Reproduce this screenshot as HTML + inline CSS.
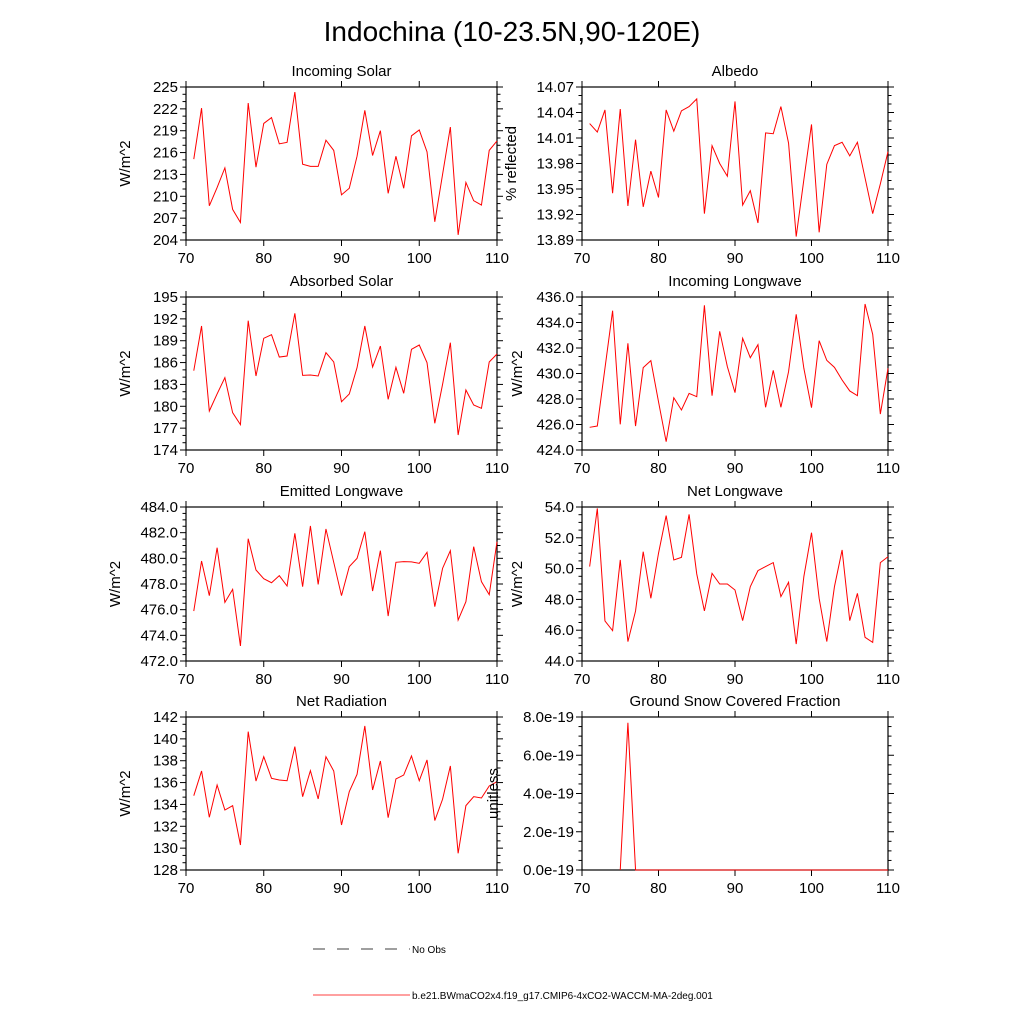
<!DOCTYPE html>
<html><head><meta charset="utf-8"><style>
html,body{margin:0;padding:0;background:#fff;}
svg{display:block;font-family:"Liberation Sans",Arial,sans-serif;}
</style></head><body>
<svg id="chart" width="1024" height="1024" viewBox="0 0 1024 1024">
<text x="512" y="41" font-size="28" text-anchor="middle">Indochina (10-23.5N,90-120E)</text>
<g>
<line x1="313" y1="949" x2="410" y2="949" stroke="#000" stroke-width="0.8" stroke-dasharray="12,12"/>
<text x="412" y="953" font-size="10">No Obs</text>
<line x1="313" y1="995" x2="410" y2="995" stroke="red" stroke-width="0.8"/>
<text x="412" y="999" font-size="10">b.e21.BWmaCO2x4.f19_g17.CMIP6-4xCO2-WACCM-MA-2deg.001</text>
</g>
</svg>
<script>
const years = [71,72,73,74,75,76,77,78,79,80,81,82,83,84,85,86,87,88,89,90,91,92,93,94,95,96,97,98,99,100,101,102,103,104,105,106,107,108,109,110];
const xTicks = [70,80,90,100,110];
const incomingSolar = [215.1,222.1,208.7,211.2,213.9,208.2,206.4,222.8,214.0,220.0,220.8,217.2,217.4,224.3,214.4,214.1,214.1,217.7,216.3,210.2,211.1,215.5,221.8,215.6,219.0,210.4,215.5,211.1,218.3,219.1,216.1,206.5,213.0,219.5,204.7,211.9,209.4,208.8,216.3,217.6];
const albedo = [14.027,14.017,14.043,13.945,14.044,13.930,14.008,13.929,13.971,13.940,14.043,14.018,14.042,14.047,14.056,13.921,14.001,13.980,13.965,14.053,13.931,13.948,13.910,14.016,14.015,14.047,14.004,13.894,13.961,14.026,13.899,13.979,14.001,14.005,13.989,14.005,13.963,13.921,13.956,13.994];
const absorbedSolar = [184.89,191.02,179.35,181.69,183.93,179.12,177.48,191.75,184.16,189.33,189.83,186.76,186.90,192.76,184.25,184.29,184.16,187.36,186.08,180.63,181.69,185.30,191.02,185.39,188.27,180.95,185.35,181.78,187.82,188.41,185.99,177.66,183.01,188.73,176.06,182.24,180.18,179.72,186.08,187.18];
const incomingLW = [425.78,425.88,430.41,434.93,426.01,432.37,425.88,430.46,431.01,427.79,424.65,428.10,427.14,428.44,428.18,435.35,428.26,433.31,430.54,428.50,432.76,431.24,432.26,427.35,430.25,427.35,430.14,434.64,430.41,427.32,432.57,431.03,430.48,429.49,428.63,428.26,435.45,433.07,426.82,430.41];
const emittedLW = [475.89,479.79,477.09,480.83,476.57,477.58,473.17,481.53,479.09,478.41,478.10,478.65,477.84,481.95,477.79,482.52,477.97,482.29,479.69,477.09,479.35,480.00,482.08,477.45,480.60,475.50,479.69,479.74,479.72,479.61,480.47,476.23,479.22,480.60,475.19,476.62,480.91,478.18,477.17,481.30];
const netLW = [50.13,53.91,46.60,45.97,50.56,45.26,47.25,51.10,48.07,50.99,53.44,50.56,50.73,53.52,49.65,47.25,49.69,49.00,49.00,48.61,46.62,48.83,49.87,50.13,50.39,48.18,49.11,45.10,49.48,52.33,48.07,45.26,48.83,51.21,46.62,48.39,45.54,45.21,50.39,50.77];
const netRad = [134.80,137.06,132.82,135.78,133.49,133.89,130.29,140.66,136.14,138.37,136.39,136.24,136.17,139.29,134.71,137.09,134.50,138.37,137.06,132.12,135.17,136.75,141.18,135.32,137.97,132.79,136.33,136.69,138.43,136.17,138.07,132.52,134.47,137.52,129.53,133.89,134.71,134.59,135.69,136.08];
const snowFrac = [null,null,null,null,0,7.7e-19,0,0,0,0,0,0,0,0,0,0,0,0,0,0,0,0,0,0,0,0,0,0,0,0,0,0,0,0,0,0,0,0,0,0];
const ticksSolar = [204,207,210,213,216,219,222,225];
const ticksAlbedo = [13.89,13.92,13.95,13.98,14.01,14.04,14.07];
const ticksAbs = [174,177,180,183,186,189,192,195];
const ticksInLW = [424,426,428,430,432,434,436];
const ticksEmLW = [472,474,476,478,480,482,484];
const ticksNetLW = [44,46,48,50,52,54];
const ticksNetRad = [128,130,132,134,136,138,140,142];
const ticksSnow = [0,2e-19,4e-19,6e-19,8e-19];

const svg = document.getElementById('chart');
const NS = 'http://www.w3.org/2000/svg';
function mk(tag, attrs, parent){const e=document.createElementNS(NS,tag);for(const k in attrs)e.setAttribute(k,attrs[k]);(parent||svg).appendChild(e);return e;}

const cols = [[186,497],[582,888]];
const rows = [[87,240],[297,450],[507,661],[717,870]];
const panels = [
 {name:'incoming-solar',title:'Incoming Solar',ytitle:'W/m^2',data:incomingSolar,ticks:ticksSolar,sub:3,fmt:v=>v.toFixed(0),c:0,r:0,ytx:130},
 {name:'albedo',title:'Albedo',ytitle:'% reflected',data:albedo,ticks:ticksAlbedo,sub:3,fmt:v=>v.toFixed(2),c:1,r:0,ytx:516},
 {name:'absorbed-solar',title:'Absorbed Solar',ytitle:'W/m^2',data:absorbedSolar,ticks:ticksAbs,sub:3,fmt:v=>v.toFixed(0),c:0,r:1,ytx:130},
 {name:'incoming-longwave',title:'Incoming Longwave',ytitle:'W/m^2',data:incomingLW,ticks:ticksInLW,sub:3,fmt:v=>v.toFixed(1),c:1,r:1,ytx:522},
 {name:'emitted-longwave',title:'Emitted Longwave',ytitle:'W/m^2',data:emittedLW,ticks:ticksEmLW,sub:4,fmt:v=>v.toFixed(1),c:0,r:2,ytx:120},
 {name:'net-longwave',title:'Net Longwave',ytitle:'W/m^2',data:netLW,ticks:ticksNetLW,sub:4,fmt:v=>v.toFixed(1),c:1,r:2,ytx:522},
 {name:'net-radiation',title:'Net Radiation',ytitle:'W/m^2',data:netRad,ticks:ticksNetRad,sub:3,fmt:v=>v.toFixed(0),c:0,r:3,ytx:130},
 {name:'ground-snow',title:'Ground Snow Covered Fraction',ytitle:'unitless',data:snowFrac,ticks:ticksSnow,sub:4,fmt:v=>(v/1e-19).toFixed(1)+'e-19',c:1,r:3,ytx:498}
];

panels.forEach(p=>{
 const [x0,x1]=cols[p.c],[y0,y1]=rows[p.r];
 const lo=p.ticks[0],hi=p.ticks[p.ticks.length-1];
 const xs=v=>x0+(v-70)/40*(x1-x0);
 const ys=v=>y1-(v-lo)/(hi-lo)*(y1-y0);
 const g=mk('g',{});
 
 
 const t=mk('text',{x:(x0+x1)/2,y:y0-11,'font-size':15,'text-anchor':'middle'},g);
 t.textContent=p.title;
 
 
 const yt=mk('text',{x:p.ytx,y:(y0+y1)/2,'font-size':15,'text-anchor':'middle',transform:`rotate(-90 ${p.ytx} ${(y0+y1)/2})`},g);
 yt.textContent=p.ytitle;
 
 
 const tk=mk('g',{stroke:'#000','stroke-width':1},g);
 
 
 for(let i=0;i<p.ticks.length;i++){
  const y=ys(p.ticks[i]);
  mk('line',{x1:x0-6,y1:y,x2:x0,y2:y},tk);
  mk('line',{x1:x1,y1:y,x2:x1+6,y2:y},tk);
  if(i<p.ticks.length-1){
   for(let s=1;s<p.sub;s++){
    const ym=ys(p.ticks[i]+(p.ticks[i+1]-p.ticks[i])*s/p.sub);
    mk('line',{x1:x0-3.5,y1:ym,x2:x0,y2:ym},tk);
    mk('line',{x1:x1,y1:ym,x2:x1+3.5,y2:ym},tk);
   }
  }
  const lb=mk('text',{x:x0-8,y:y+5,'font-size':15,'text-anchor':'end',stroke:'none'},g);
  lb.textContent=p.fmt(p.ticks[i]);
  
  
 }
 xTicks.forEach(v=>{
  const x=xs(v);
  mk('line',{x1:x,y1:y1,x2:x,y2:y1+6},tk);
  mk('line',{x1:x,y1:y0-6,x2:x,y2:y0},tk);
  const lb=mk('text',{x:x,y:y1+23,'font-size':15,'text-anchor':'middle'},g);
  lb.textContent=String(v);
  
  
 });
 const frame=mk('rect',{x:x0,y:y0,width:x1-x0,height:y1-y0,fill:'none',stroke:'#000','stroke-width':1.2},g);
 
 
 let d='',pen=false;
 p.data.forEach((v,i)=>{
  if(v===null){pen=false;return;}
  d+=(pen?'L':'M')+xs(years[i]).toFixed(2)+','+ys(v).toFixed(2);
  pen=true;
 });
 const line=mk('path',{d:d,fill:'none',stroke:'red','stroke-width':1},g);
 
 
});
</script>
</body></html>
